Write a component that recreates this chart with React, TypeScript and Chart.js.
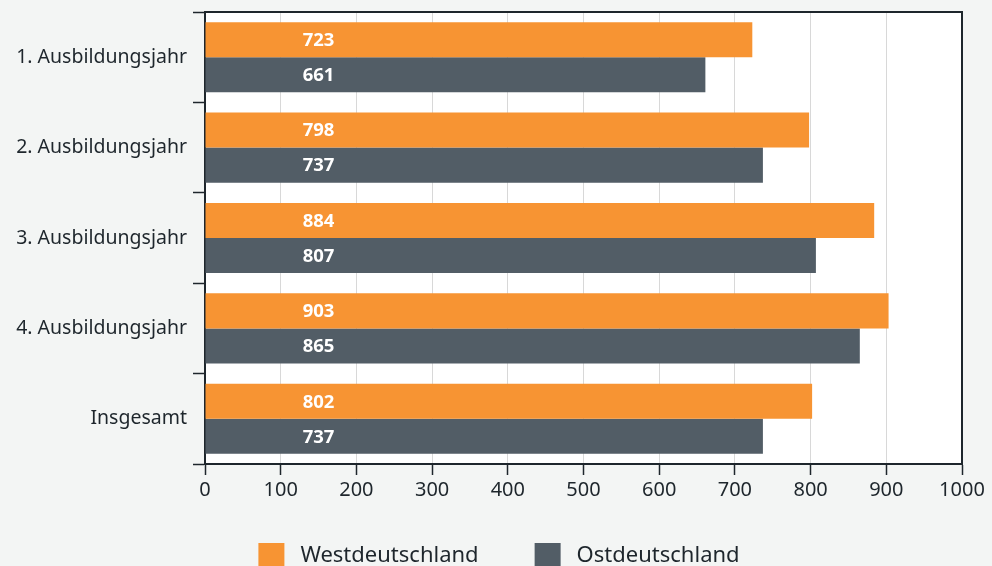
import React, { useEffect, useRef } from "react";
import { Chart, registerables } from "chart.js";

Chart.register(...registerables);

const categories = [
  "1. Ausbildungsjahr",
  "2. Ausbildungsjahr",
  "3. Ausbildungsjahr",
  "4. Ausbildungsjahr",
  "Insgesamt",
];
const westValues = [723, 798, 884, 903, 802];
const ostValues = [661, 737, 807, 865, 737];
const seriesNames = ["Westdeutschland", "Ostdeutschland"];
const xMin = 0;
const xMax = 1000;
const xStep = 100;
const labelAnchorValue = 150;

const ORANGE = "#f79433";
const GRAY = "#525d66";
const DARK = "#1e262c";
const BG = "#f3f5f4";
const FONT = "'Noto Sans', 'Open Sans', sans-serif";

const customPlugin = {
  id: "custom",
  beforeDraw(chart: any) {
    const { ctx, chartArea } = chart;
    ctx.save();
    ctx.fillStyle = "#ffffff";
    ctx.fillRect(chartArea.left, chartArea.top, chartArea.right - chartArea.left, chartArea.bottom - chartArea.top);
    ctx.restore();
  },
  afterDatasetsDraw(chart: any) {
    const { ctx } = chart;
    const xScale = chart.scales.x;
    const lx = xScale.getPixelForValue(labelAnchorValue);
    ctx.save();
    ctx.fillStyle = "#ffffff";
    ctx.font = `bold 18.5px ${FONT}`;
    ctx.textAlign = "center";
    ctx.textBaseline = "middle";
    chart.data.datasets.forEach((ds: any, di: number) => {
      const meta = chart.getDatasetMeta(di);
      meta.data.forEach((el: any, i: number) => {
        ctx.fillText(String(ds.data[i]), lx, el.y + 1);
      });
    });
    ctx.restore();
  },
  afterDraw(chart: any) {
    const { ctx, chartArea } = chart;
    ctx.save();
    ctx.strokeStyle = DARK;
    ctx.lineWidth = 2;
    ctx.beginPath();
    ctx.moveTo(chartArea.left, chartArea.top);
    ctx.lineTo(chartArea.right, chartArea.top);
    ctx.lineTo(chartArea.right, chartArea.bottom);
    ctx.stroke();
    // legend
    ctx.font = `22px ${FONT}`;
    ctx.textBaseline = "middle";
    ctx.textAlign = "left";
    const box = 26;
    const gap = 16;
    const itemGap = 56;
    const widths = chart.data.datasets.map((ds: any) => box + gap + ctx.measureText(ds.label).width);
    const total = widths.reduce((a: number, b: number) => a + b, 0) + itemGap * (widths.length - 1);
    let x = chart.width / 2 - total / 2 + 3;
    const y = chartArea.bottom + 79;
    chart.data.datasets.forEach((ds: any, i: number) => {
      ctx.fillStyle = ds.backgroundColor;
      ctx.fillRect(x, y, box, box);
      ctx.fillStyle = DARK;
      ctx.fillText(ds.label, x + box + gap, y + box / 2);
      x += widths[i] + itemGap;
    });
    ctx.restore();
  },
};

export default function App() {
  const ref = useRef<HTMLCanvasElement | null>(null);
  useEffect(() => {
    document.body.style.margin = "0";
    document.body.style.background = BG;
    if (!ref.current) return;
    const chart = new Chart(ref.current, {
      type: "bar",
      data: {
        labels: categories,
        datasets: [
          { label: seriesNames[0], data: westValues, backgroundColor: ORANGE },
          { label: seriesNames[1], data: ostValues, backgroundColor: GRAY },
        ],
      },
      options: {
        indexAxis: "y",
        animation: false,
        responsive: false,
        maintainAspectRatio: false,
        events: [],
        layout: { padding: { left: 0, right: 30, top: 12, bottom: 46 } },
        datasets: { bar: { categoryPercentage: 0.775, barPercentage: 1 } },
        plugins: {
          legend: { display: false },
          tooltip: { enabled: false },
        },
        scales: {
          x: {
            min: xMin,
            max: xMax,
            ticks: {
              stepSize: xStep,
              color: DARK,
              font: { family: FONT, size: 20 },
              padding: 3,
              maxRotation: 0,
              callback: (v: any) => String(v),
            },
            grid: {
              color: "#d8d8d8",
              lineWidth: 1,
              tickColor: DARK,
              tickLength: 11,
              tickWidth: 1.5,
            },
            border: { color: DARK, width: 2 },
            afterFit: (s: any) => {
              s.height = 70;
              s.paddingLeft = 0;
              s.paddingRight = 0;
            },
          },
          y: {
            ticks: {
              color: DARK,
              font: { family: FONT, size: 19.5 },
              padding: 6,
            },
            grid: {
              drawOnChartArea: false,
              tickColor: DARK,
              tickLength: 12,
              tickWidth: 1.5,
            },
            border: { color: DARK, width: 2 },
            afterFit: (s: any) => {
              s.width = 205;
              s.paddingTop = 0;
              s.paddingBottom = 0;
            },
          },
        },
      },
      plugins: [customPlugin],
    });
    return () => chart.destroy();
  }, []);
  return (
    <div style={{ position: "absolute", left: 0, top: 0, width: 992, height: 580, background: BG }}>
      <canvas ref={ref} width={992} height={580} style={{ display: "block", width: 992, height: 580 }} />
    </div>
  );
}
